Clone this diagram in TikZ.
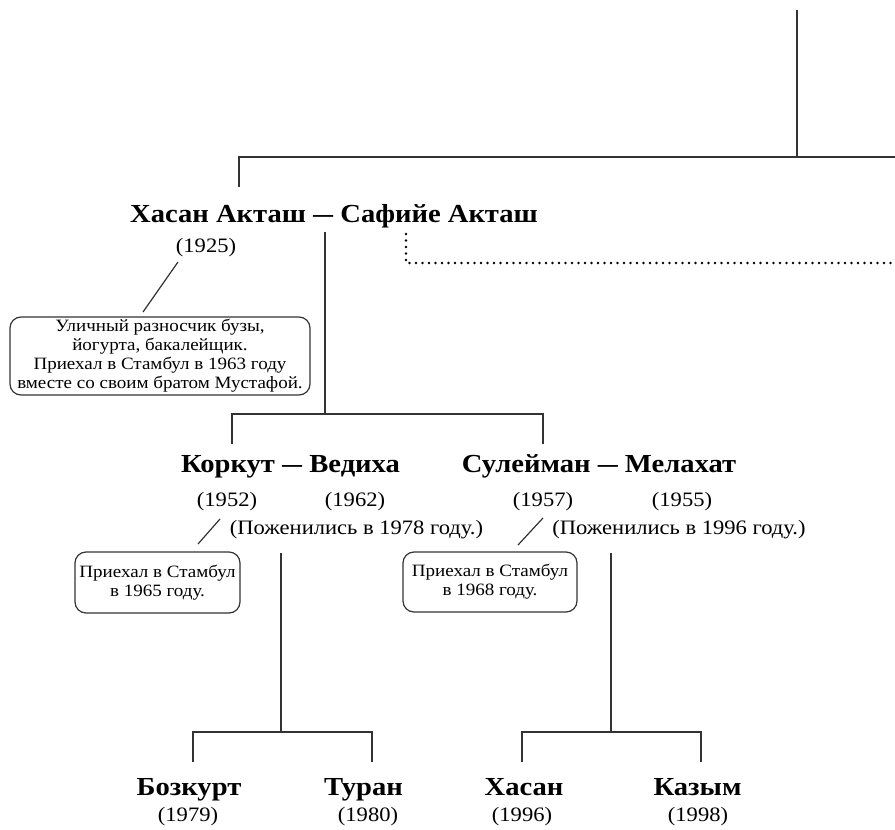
\documentclass[tikz,border=0pt]{standalone}
\usepackage{fontspec}
\setmainfont{Liberation Serif}[FakeStretch=1.1]
\newcommand{\ndash}{\scalebox{0.7}[1]{—}}
\begin{document}
\begin{tikzpicture}[x=1pt,y=-1pt,
  ln/.style={line width=1.2pt, draw=black!80},
  dotln/.style={line width=2.6pt, line cap=round, dash pattern=on 0pt off 6.5pt, draw=black},
  bigname/.style={anchor=base, inner sep=0pt, font=\fontsize{26}{30}\selectfont\bfseries},
  yr/.style={anchor=base, inner sep=0pt, font=\fontsize{20.5}{24}\selectfont},
  note/.style={draw=black!80, line width=1.2pt, rounded corners=11pt, align=center, inner sep=0pt, font=\fontsize{17.3}{19}\selectfont}]
\useasboundingbox (0,0) rectangle (895,830);

% top connectors
\coordinate (t0) at (797,10);
\coordinate (t1) at (797,157);
\coordinate (tl) at (239,157);
\coordinate (tr) at (895,157);
\coordinate (tld) at (239,187);
\draw[ln] (t0) -- (t1);
\draw[ln] (tr) -- (tl) -- (tld);

% first couple
\node[bigname] (hc) at (334,222) {Хасан Акташ \ndash{} Сафийе Акташ};
\node[yr] (y1925) at (206,252) {(1925)};
\node[note, minimum width=300pt, minimum height=78pt] (n1) at (160,356)
  {Уличный разносчик бузы,\\йогурта, бакалейщик.\\Приехал в Стамбул в 1963 году\\вместе со своим братом Мустафой.};
\coordinate (s1a) at (178,262);
\coordinate (s1b) at (143,312);
\draw[ln] (s1a) -- (s1b);

% dotted line
\coordinate (d0) at (406,234);
\coordinate (d1) at (406,263);
\coordinate (d2) at (895,263);
\draw[dotln] (d0) -- (d1) -- (d2);

% children of first couple
\coordinate (c0) at (325,232);
\coordinate (c1) at (325,414);
\coordinate (cl) at (232,414);
\coordinate (cr) at (543,414);
\coordinate (cld) at (232,444);
\coordinate (crd) at (543,444);
\draw[ln] (c0) -- (c1);
\draw[ln] (cld) -- (cl) -- (cr) -- (crd);

% Korkut - Vediha
\node[bigname] (kv) at (290.5,472) {Коркут \ndash{} Ведиха};
\node[yr] (y1952) at (227,506) {(1952)};
\node[yr] (y1962) at (355,506) {(1962)};
\node[yr] (m1978) at (356.5,534) {(Поженились в 1978 году.)};
\coordinate (s2a) at (220,519);
\coordinate (s2b) at (198,544);
\draw[ln] (s2a) -- (s2b);
\node[note, minimum width=165pt, minimum height=61pt] (n2) at (157.5,582.5)
  {Приехал в Стамбул\\в 1965 году.};

% Suleyman - Melahat
\node[bigname] (sm) at (599,472) {Сулейман \ndash{} Мелахат};
\node[yr] (y1957) at (543,506) {(1957)};
\node[yr] (y1955) at (682,506) {(1955)};
\node[yr] (m1996) at (679,534) {(Поженились в 1996 году.)};
\coordinate (s3a) at (543,518);
\coordinate (s3b) at (518,545);
\draw[ln] (s3a) -- (s3b);
\node[note, minimum width=174pt, minimum height=60pt] (n3) at (490,582)
  {Приехал в Стамбул\\в 1968 году.};

% Korkut's children
\coordinate (k0) at (281,553);
\coordinate (k1) at (281,732);
\coordinate (kl) at (193,732);
\coordinate (kr) at (372,732);
\coordinate (kld) at (193,762);
\coordinate (krd) at (372,762);
\draw[ln] (k0) -- (k1);
\draw[ln] (kld) -- (kl) -- (kr) -- (krd);
\node[bigname] (boz) at (189,795) {Бозкурт};
\node[yr] (y1979) at (188,821) {(1979)};
\node[bigname] (tur) at (363.5,795) {Туран};
\node[yr] (y1980) at (368,821) {(1980)};

% Suleyman's children
\coordinate (u0) at (611,553);
\coordinate (u1) at (611,732);
\coordinate (ul) at (522,732);
\coordinate (ur) at (701,732);
\coordinate (uld) at (522,762);
\coordinate (urd) at (701,762);
\draw[ln] (u0) -- (u1);
\draw[ln] (uld) -- (ul) -- (ur) -- (urd);
\node[bigname] (has) at (524,795) {Хасан};
\node[yr] (y1996) at (522,821) {(1996)};
\node[bigname] (kaz) at (697.5,795) {Казым};
\node[yr] (y1998) at (698,821) {(1998)};
\end{tikzpicture}
\end{document}
